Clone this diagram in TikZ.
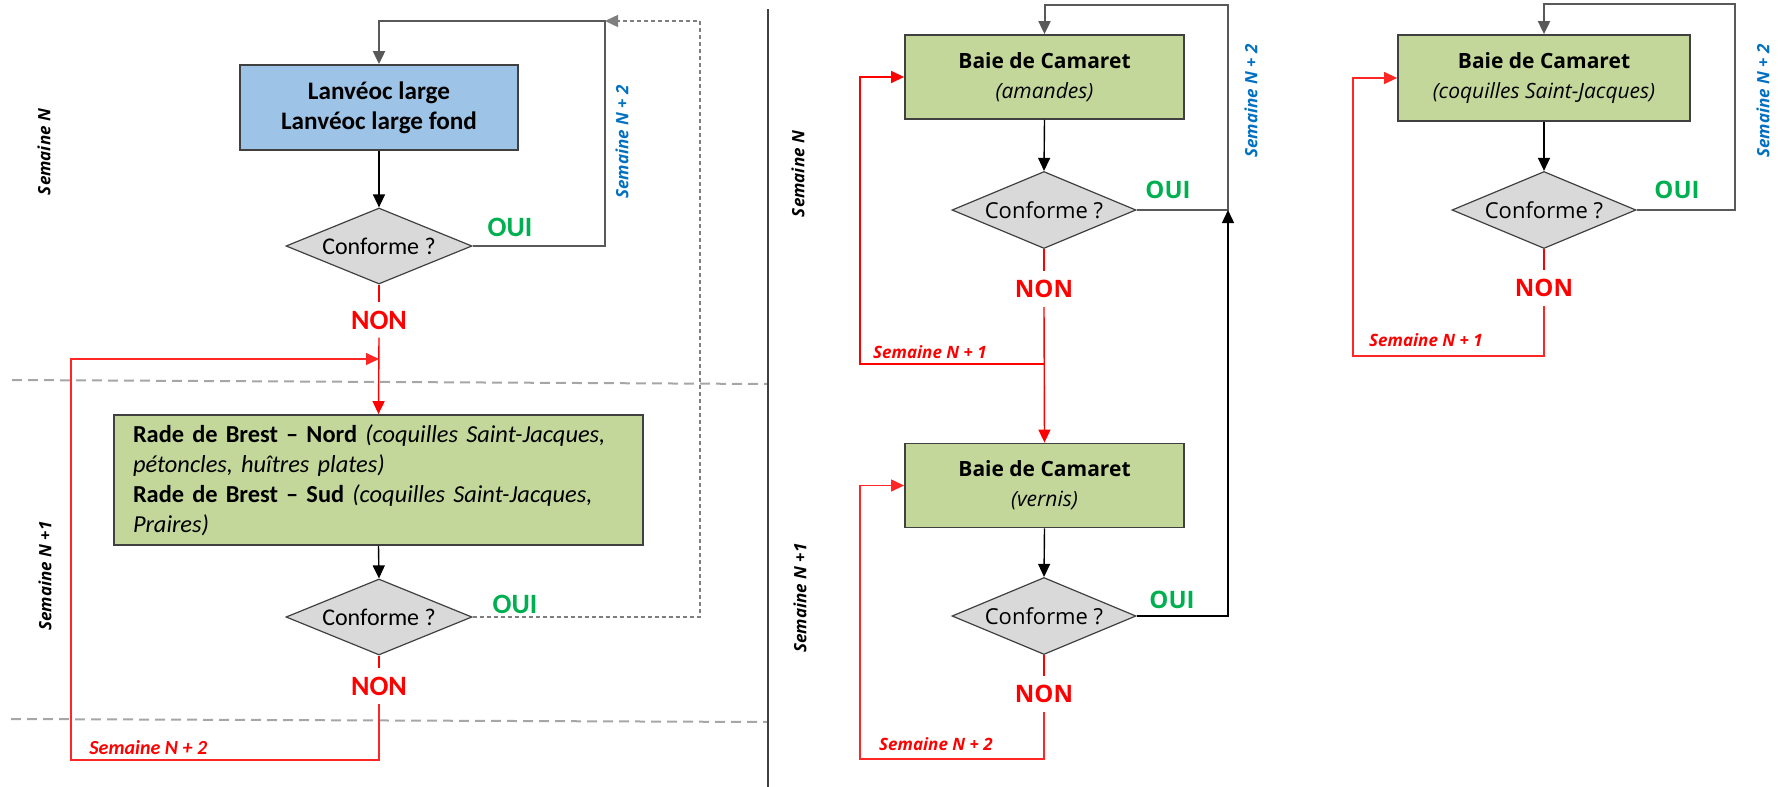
\documentclass[tikz,border=0pt]{standalone}
\usepackage{fontspec}
\setmainfont{Carlito}
\newfontfamily\notosans{Open Sans}
\usetikzlibrary{arrows.meta,shapes.geometric}
\definecolor{boxblue}{HTML}{9DC3E6}
\definecolor{boxgreen}{HTML}{C4D79B}
\definecolor{diagray}{HTML}{D9D9D9}
\definecolor{edgegray}{HTML}{404040}
\definecolor{ouigreen}{HTML}{00B050}
\definecolor{semblue}{HTML}{0070C0}
\definecolor{loopgray}{HTML}{595959}
\definecolor{sepgray}{HTML}{A6A6A6}
\definecolor{dashgray}{HTML}{7F7F7F}
\begin{document}
\begin{tikzpicture}[x=0.5pt,y=-0.5pt,
  tip/.style={-{Triangle[length=6.5pt,width=6pt]}},
  procbox/.style={draw=edgegray, line width=0.9pt, inner sep=0pt, align=center},
  decision/.style={diamond, aspect=2.45, draw=edgegray, line width=0.6pt, fill=diagray, inner sep=0pt, minimum width=93pt, minimum height=38pt},
  flowline/.style={draw=black, line width=0.7pt, tip},
  loopline/.style={draw=loopgray, line width=1pt},
  redline/.style={draw=red, line width=0.7pt},
  redloop/.style={draw=red!85, line width=0.6pt},
  dashline/.style={draw=dashgray, line width=0.7pt, dash pattern=on 2pt off 1.5pt},
  sepline/.style={draw=sepgray, line width=1pt, dash pattern=on 5pt off 3pt},
  nonL/.style={text=red, font=\bfseries\fontsize{14}{16}\selectfont, inner xsep=1pt, inner ysep=4pt},
  ouiL/.style={text=ouigreen, font=\bfseries\fontsize{14}{16}\selectfont, inner sep=1pt},
  nonR/.style={text=red, font=\notosans\bfseries\fontsize{12}{14}\selectfont, inner xsep=1pt, inner ysep=4.5pt},
  ouiR/.style={text=ouigreen, font=\notosans\bfseries\fontsize{12}{14}\selectfont, inner sep=1pt},
  semlbl/.style={font=\notosans\bfseries\itshape\fontsize{8.5}{10}\selectfont, inner sep=1pt},
  semlblue/.style={semlbl, text=semblue},
  semlred/.style={semlbl, text=red},
  condR/.style={decision, font=\notosans\fontsize{11}{13}\selectfont, minimum width=92pt, minimum height=38.5pt},
  condL/.style={decision, font=\fontsize{12}{14}\selectfont},
  boxR/.style={procbox, fill=boxgreen, font=\notosans\fontsize{10.5}{15}\selectfont}
]
\useasboundingbox (0,0) rectangle (1778,787);

% separators
\draw[sepline] (12,380) -- (768,384);
\draw[sepline] (11,719) -- (768,722);
\draw[draw=edgegray, line width=0.6pt] (768,9) -- (768,787);

% ---------------- left panel ----------------
\node[procbox, fill=boxblue, minimum width=139pt, minimum height=42.5pt,
      font=\bfseries\fontsize{12.6}{15}\selectfont] (L1) at (379,107.5) {Lanvéoc large\\Lanvéoc large fond};
\node[condL] (D1) at (379,246) {Conforme ?};
\node[nonL] (N1) at (379,320) {NON};
\node[ouiL] (O1) at (510,227) {OUI};
\node[procbox, fill=boxgreen, minimum width=264.5pt, minimum height=65pt, text width=245.5pt,
      align=left, inner xsep=9.5pt, font=\fontsize{12.2}{15}\selectfont] (L2) at (378.5,480)
  {\textbf{Rade de Brest – Nord} \textit{(coquilles Saint-Jacques,}\\
   \textit{pétoncles, huîtres plates)}\\
   \textbf{Rade de Brest – Sud} \textit{(coquilles Saint-Jacques,}\\
   \textit{Praires)}};
\node[condL] (D2) at (379,617) {Conforme ?};
\node[nonL] (N2) at (379,686) {NON};
\node[ouiL] (O2) at (515,604) {OUI};

\coordinate (c1) at (605,21);
\coordinate (c2) at (700,21);
\coordinate (c3) at (700,617);
\coordinate (c4) at (379,359);
\coordinate (c5) at (71,359);
\coordinate (c6) at (71,760);

\draw[flowline] (L1.south) -- (D1.north);
\draw[loopline, tip] (D1.east) -| (c1) -| (L1.north);
\draw[dashline, tip] (D2.east) -- (c3) -- (c2) -- (c1);
\draw[redline] (D1.south) -- (N1.north);
\draw[redline, tip] (N1.south) -- (L2.north);
\draw[flowline] (L2.south) -- (D2.north);
\draw[redline] (D2.south) -- (N2.north);
\draw[redloop, tip] (N2.south) |- (c6) -- (c5) -- (c4);

\node[semlbl, rotate=90] (sL1) at (44,152) {Semaine N};
\node[semlbl, rotate=90] (sL2) at (45,576) {Semaine N +1};
\node[semlblue, rotate=90] (sL3) at (622,142) {Semaine N + 2};
\node[text=red, font=\bfseries\itshape\fontsize{10}{12}\selectfont, anchor=west, inner sep=0pt] (sL4) at (89,748) {Semaine N + 2};

% ---------------- middle panel ----------------
\node[boxR, minimum width=139.5pt, minimum height=42pt] (A1) at (1044.5,77) {\textbf{Baie de Camaret}\\\textit{(amandes)}};
\node[condR] (DA) at (1044,210) {Conforme ?};
\node[nonR] (NA) at (1044,289) {NON};
\node[ouiR] (OA) at (1168,190) {OUI};
\node[boxR, minimum width=139.5pt, minimum height=42pt] (B1) at (1044.5,485.5) {\textbf{Baie de Camaret}\\\textit{(vernis)}};
\node[condR] (DB) at (1044,616) {Conforme ?};
\node[nonR] (NB) at (1044,694) {NON};
\node[ouiR] (OB) at (1172,600) {OUI};

\coordinate (m1) at (1228,210);
\coordinate (m2) at (1228,5);
\coordinate (m3) at (1044,364);
\coordinate (m4) at (860,364);
\coordinate (m5) at (860,77);
\coordinate (m6) at (1044,759);
\coordinate (m7) at (860,759);
\coordinate (m8) at (860,485.5);

\draw[flowline] (A1.south) -- (DA.north);
\draw[loopline, tip] (DA.east) -- (m1) -- (m2) -| (A1.north);
\draw[flowline] (DB.east) -| (m1);
\draw[redline] (DA.south) -- (NA.north);
\draw[redline, tip] (NA.south) -- (B1.north);
\draw[redline, tip] (m3) -- (m4) -- (m5) -- (A1.west);
\draw[flowline] (B1.south) -- (DB.north);
\draw[redline] (DB.south) -- (NB.north);
\draw[redloop, tip] (NB.south) -- (m6) -- (m7) -- (m8) -- (B1.west);

\node[semlbl, rotate=90] (sM1) at (798,174) {Semaine N};
\node[semlbl, rotate=90] (sM2) at (800,598) {Semaine N +1};
\node[semlblue, rotate=90] (sM3) at (1251,101) {Semaine N + 2};
\node[semlred] (sM4) at (930,352) {Semaine N + 1};
\node[semlred] (sM5) at (936,744) {Semaine N + 2};

% ---------------- right panel ----------------
\node[boxR, minimum width=146pt, minimum height=43pt] (C1) at (1544,78) {\textbf{Baie de Camaret}\\\textit{(coquilles Saint-Jacques)}};
\node[condR] (DC) at (1544,210) {Conforme ?};
\node[nonR] (NC) at (1544,288) {NON};
\node[ouiR] (OC) at (1677,190) {OUI};

\coordinate (r1) at (1735,210);
\coordinate (r2) at (1735,4);
\coordinate (r3) at (1544,356);
\coordinate (r4) at (1353,356);
\coordinate (r5) at (1353,78);

\draw[flowline] (C1.south) -- (DC.north);
\draw[loopline, tip] (DC.east) -- (r1) -- (r2) -| (C1.north);
\draw[redline] (DC.south) -- (NC.north);
\draw[redloop, tip] (NC.south) -- (r3) -- (r4) -- (r5) -- (C1.west);

\node[semlblue, rotate=90] (sR1) at (1763,101) {Semaine N + 2};
\node[semlred] (sR2) at (1426,340) {Semaine N + 1};
\end{tikzpicture}
\end{document}
